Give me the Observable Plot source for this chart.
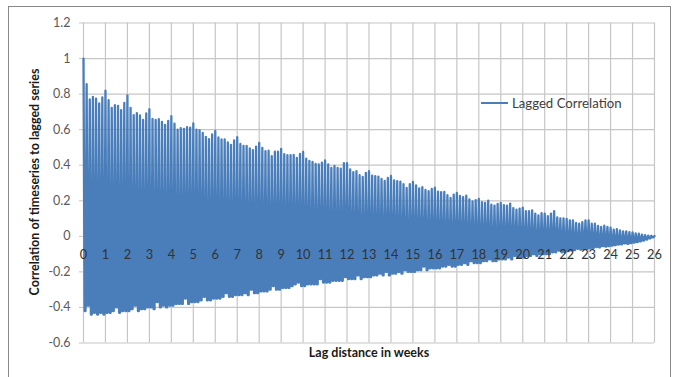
<!DOCTYPE html>
<html>
<head>
<meta charset="utf-8">
<script src="https://cdn.jsdelivr.net/npm/d3@7"></script>
<script src="https://cdn.jsdelivr.net/npm/@observablehq/plot@0.6"></script>
<style>
  html, body { margin: 0; padding: 0; background: #fff; }
  #chart { width: 674px; height: 377px; }
</style>
</head>
<body>
<div id="chart"></div>
<script>
// Lagged correlation, one peak per whole-day lag (days 0..182 = weeks 0..26)
const dailyPeak = [
  1.0, 0.856, 0.77, 0.785, 0.774, 0.748, 0.781,
  0.819, 0.766, 0.723, 0.738, 0.734, 0.71, 0.751,
  0.793, 0.723, 0.682, 0.693, 0.68, 0.655, 0.691,
  0.715, 0.661, 0.655, 0.659, 0.644, 0.627, 0.65,
  0.676, 0.634, 0.60, 0.608, 0.605, 0.614, 0.611,
  0.635, 0.60, 0.597, 0.582, 0.56, 0.546, 0.573,
  0.593, 0.556, 0.545, 0.545, 0.528, 0.514, 0.539,
  0.558, 0.52, 0.509, 0.509, 0.494, 0.485, 0.505,
  0.526, 0.498, 0.479, 0.482, 0.451, 0.476, 0.476,
  0.492, 0.462, 0.456, 0.456, 0.458, 0.441, 0.463,
  0.475, 0.437, 0.424, 0.419, 0.407, 0.404, 0.415,
  0.427, 0.404, 0.385, 0.396, 0.385, 0.381, 0.411,
  0.411, 0.377, 0.361, 0.366, 0.344, 0.334, 0.357,
  0.366, 0.342, 0.338, 0.336, 0.323, 0.312, 0.328,
  0.34, 0.315, 0.31, 0.308, 0.293, 0.272, 0.293,
  0.306, 0.287, 0.27, 0.276, 0.261, 0.254, 0.267,
  0.274, 0.252, 0.248, 0.25, 0.231, 0.216, 0.235,
  0.244, 0.227, 0.221, 0.229, 0.208, 0.197, 0.204,
  0.21, 0.192, 0.188, 0.201, 0.178, 0.173, 0.182,
  0.188, 0.176, 0.173, 0.184, 0.159, 0.15, 0.156,
  0.161, 0.142, 0.142, 0.146, 0.128, 0.118, 0.131,
  0.128, 0.113, 0.128, 0.142, 0.107, 0.101, 0.101,
  0.098, 0.09, 0.09, 0.075, 0.071, 0.08, 0.09,
  0.09, 0.071, 0.071, 0.058, 0.053, 0.06, 0.053,
  0.049, 0.038, 0.04, 0.034, 0.028, 0.028, 0.024,
  0.022, 0.017, 0.015, 0.009, 0.007, 0.004, 0.003,
  0.002
];

// Lowest correlation reached between one whole-day lag and the next (days 0..181)
const dailyTrough = [
  -0.42, -0.39, -0.44, -0.43, -0.44, -0.43, -0.44,
  -0.43, -0.43, -0.42, -0.40, -0.43, -0.42, -0.42,
  -0.42, -0.41, -0.39, -0.42, -0.41, -0.41, -0.40,
  -0.40, -0.41, -0.37, -0.40, -0.39, -0.40, -0.39,
  -0.39, -0.38, -0.38, -0.38, -0.35, -0.38, -0.37,
  -0.37, -0.37, -0.36, -0.34, -0.36, -0.36, -0.35,
  -0.35, -0.35, -0.34, -0.32, -0.34, -0.34, -0.33,
  -0.33, -0.33, -0.32, -0.33, -0.30, -0.32, -0.32,
  -0.31, -0.31, -0.31, -0.30, -0.28, -0.30, -0.30,
  -0.29, -0.29, -0.29, -0.28, -0.27, -0.26, -0.28,
  -0.28, -0.27, -0.27, -0.27, -0.27, -0.24, -0.26,
  -0.26, -0.26, -0.25, -0.25, -0.25, -0.25, -0.23,
  -0.24, -0.24, -0.24, -0.22, -0.24, -0.23, -0.23,
  -0.23, -0.22, -0.22, -0.21, -0.22, -0.20, -0.22,
  -0.21, -0.21, -0.20, -0.21, -0.19, -0.20, -0.20,
  -0.20, -0.19, -0.19, -0.17, -0.19, -0.18, -0.18,
  -0.18, -0.18, -0.17, -0.17, -0.16, -0.17, -0.17,
  -0.16, -0.16, -0.15, -0.16, -0.14, -0.15, -0.15,
  -0.15, -0.14, -0.14, -0.13, -0.14, -0.14, -0.13,
  -0.13, -0.13, -0.12, -0.13, -0.11, -0.12, -0.12,
  -0.12, -0.11, -0.11, -0.10, -0.11, -0.10, -0.10,
  -0.10, -0.10, -0.09, -0.09, -0.08, -0.09, -0.09,
  -0.083, -0.08, -0.078, -0.07, -0.075, -0.072, -0.07,
  -0.068, -0.065, -0.06, -0.062, -0.055, -0.058, -0.055,
  -0.052, -0.05, -0.046, -0.045, -0.04, -0.042, -0.038,
  -0.035, -0.032, -0.028, -0.024, -0.018, -0.012, -0.006
];

const weekTicks = d3.range(0, 27);            // 0 .. 26
const corrTicks = [-0.6, -0.4, -0.2, 0, 0.2, 0.4, 0.6, 0.8, 1, 1.2];

const seriesName = "Lagged Correlation";
const xTitle = "Lag distance in weeks";
const yTitle = "Correlation of timeseries to lagged series";

// Each day: a sharp peak at the whole-day lag, then a trough held through mid-day
const lagged = [];
dailyTrough.forEach((low, d) => {
  lagged.push({weeks: d / 7, corr: dailyPeak[d]});
  lagged.push({weeks: (d + 0.35) / 7, corr: low});
  lagged.push({weeks: (d + 0.65) / 7, corr: low});
});
lagged.push({weeks: dailyTrough.length / 7, corr: dailyPeak[dailyTrough.length]});

const blue = "#4a7ebb";
const grid = "#c6c6c6";
const font = "Lato, 'Open Sans', sans-serif";

const chart = Plot.plot({
  width: 674,
  height: 377,
  marginLeft: 83,
  marginRight: 20,
  marginTop: 22.5,
  marginBottom: 34.5,
  style: {fontFamily: font, background: "#fff"},
  x: {domain: [0, 26], axis: null},
  y: {domain: [-0.6, 1.2], axis: null},
  marks: [
    Plot.ruleX(weekTicks, {x: d => d, y1: -0.6, y2: 1.2, stroke: grid, strokeWidth: 1.2}),
    Plot.ruleY(corrTicks, {y: d => d, x1: 0, x2: 26, stroke: grid, strokeWidth: 1.2}),
    Plot.axisY({
      ticks: corrTicks,
      label: null,
      tickSize: 4,
      tickPadding: 9,
      stroke: grid,
      fill: "#595959",
      fontSize: 12.5,
      tickFormat: d => String(+d.toFixed(1))
    }),
    Plot.line(lagged, {
      x: "weeks",
      y: "corr",
      stroke: blue,
      strokeWidth: 2.3,
      strokeLinejoin: "round"
    }),
    Plot.text(weekTicks, {
      x: d => d,
      y: 0,
      dy: 19,
      text: d => String(d),
      fill: "#333",
      fontSize: 12.8
    })
  ]
});

const svg = d3.select(chart);

// chart-area border
svg.insert("rect", ":first-child")
  .attr("x", 8.5).attr("y", 6.5)
  .attr("width", 662).attr("height", 380)
  .attr("fill", "none").attr("stroke", "#888").attr("stroke-width", 1);

// axis titles
svg.append("text")
  .attr("transform", "translate(39,182) rotate(-90)")
  .attr("text-anchor", "middle")
  .attr("font-family", font).attr("font-weight", "bold").attr("font-size", 12.5)
  .attr("fill", "#1a1a1a")
  .text(yTitle);

svg.append("text")
  .attr("x", 369).attr("y", 357)
  .attr("text-anchor", "middle")
  .attr("font-family", font).attr("font-weight", "bold").attr("font-size", 12.5)
  .attr("fill", "#1a1a1a")
  .text(xTitle);

// legend
svg.append("line")
  .attr("x1", 481).attr("x2", 508).attr("y1", 103).attr("y2", 103)
  .attr("stroke", blue).attr("stroke-width", 2);
svg.append("text")
  .attr("x", 512).attr("y", 107.5)
  .attr("text-anchor", "start")
  .attr("font-family", font).attr("font-size", 13.2)
  .attr("fill", "#404040")
  .text(seriesName);

document.getElementById("chart").appendChild(chart);
</script>
</body>
</html>
